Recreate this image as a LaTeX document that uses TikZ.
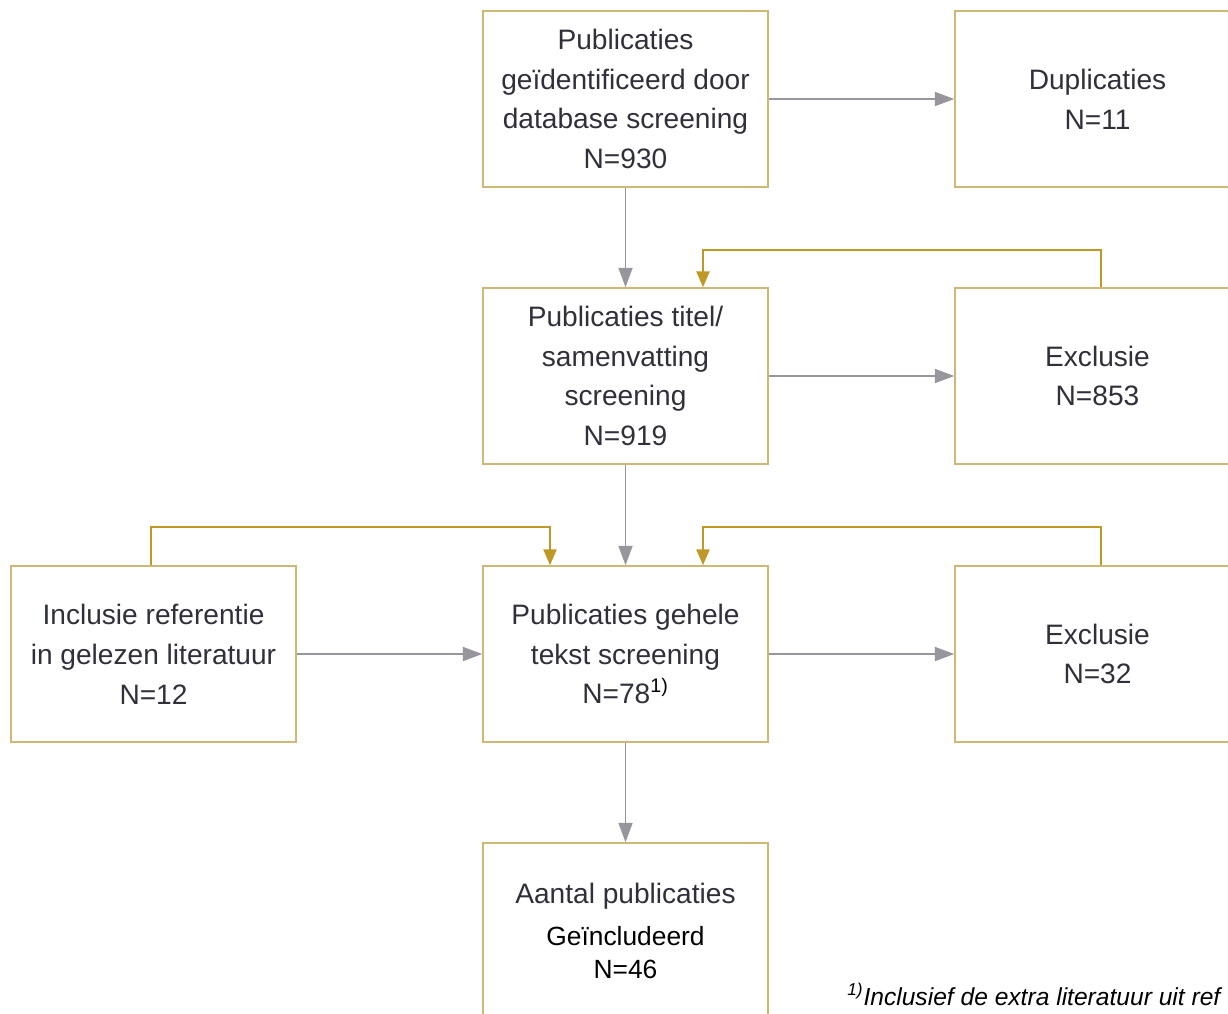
\documentclass[tikz,border=0pt]{standalone}
\usepackage{fontspec}
\setmainfont{Liberation Sans}
\usepackage{tikz}
\usetikzlibrary{arrows.meta,positioning,calc}
\usepackage{xcolor}
\definecolor{boxtan}{RGB}{206,184,118}
\definecolor{fbgold}{RGB}{192,152,38}
\definecolor{flowgrey}{RGB}{150,150,156}
\definecolor{txtgrey}{RGB}{48,48,58}

\begin{document}
\begin{tikzpicture}[x=0.02cm, y=-0.02cm,
  every node/.style={font=\fontsize{16}{22.7}\selectfont, text=txtgrey},
  stepbox/.style={draw=boxtan, line width=0.9pt, fill=white, minimum width=5.7cm, minimum height=3.52cm, align=center, inner sep=2pt},
  flow/.style={draw=flowgrey, line width=0.8pt, -{Triangle[length=11pt, width=8pt]}},
  fb/.style={draw=fbgold, line width=0.9pt, -{Triangle[length=9pt, width=7.5pt]}}]
\useasboundingbox (0,0) rectangle (1228,1014);
\clip (0,0) rectangle (1228,1014);
\node[stepbox] (pub)   at (625.5, 99)  {Publicaties\\geïdentificeerd door\\database screening\\N=930};
\node[stepbox] (dup)   at (1097.5, 99) {Duplicaties\\N=11};
\node[stepbox] (titel) at (625.5, 376) {Publicaties titel/\\samenvatting\\screening\\N=919};
\node[stepbox] (excl1) at (1097.5, 376) {Exclusie\\N=853};
\node[stepbox] (full)  at (625.5, 654) {Publicaties gehele\\tekst screening\\N=78\textsuperscript{\color{black}1)}};
\node[stepbox] (incl)  at (153.5, 654) {Inclusie referentie\\in gelezen literatuur\\N=12};
\node[stepbox] (excl2) at (1097.5, 654) {Exclusie\\N=32};
\node[stepbox] (final) at (625.5, 931) {Aantal publicaties\\[1pt]{\color{black}\fontsize{15}{17}\selectfont Geïncludeerd}\\[-4pt]{\color{black}\fontsize{15}{17}\selectfont N=46}};
\draw[flow] (pub.east) -- (dup.west);
\draw[flow] (pub.south) -- (titel.north);
\draw[flow] (titel.east) -- (excl1.west);
\draw[flow] (titel.south) -- (full.north);
\draw[flow] (incl.east) -- (full.west);
\draw[flow] (full.east) -- (excl2.west);
\draw[flow] (full.south) -- (final.north);
% feedback lines in gold
\draw[fb] ($(excl1.north)+(3.5,0)$) -- ++(0,-37) -| ($(titel.north)+(77.5,0)$);
\draw[fb] ($(excl2.north)+(3.5,0)$) -- ++(0,-38) -| ($(full.north)+(77.5,0)$);
\draw[fb] ($(incl.north)+(-2.5,0)$) -- ++(0,-38) -| ($(full.north)+(-75.5,0)$);
\node[anchor=base west, text=black, font=\fontsize{14}{16}\selectfont\itshape, inner sep=0pt] (note) at (847, 1005) {\textsuperscript{1)}Inclusief de extra literatuur uit ref};
\end{tikzpicture}
\end{document}
